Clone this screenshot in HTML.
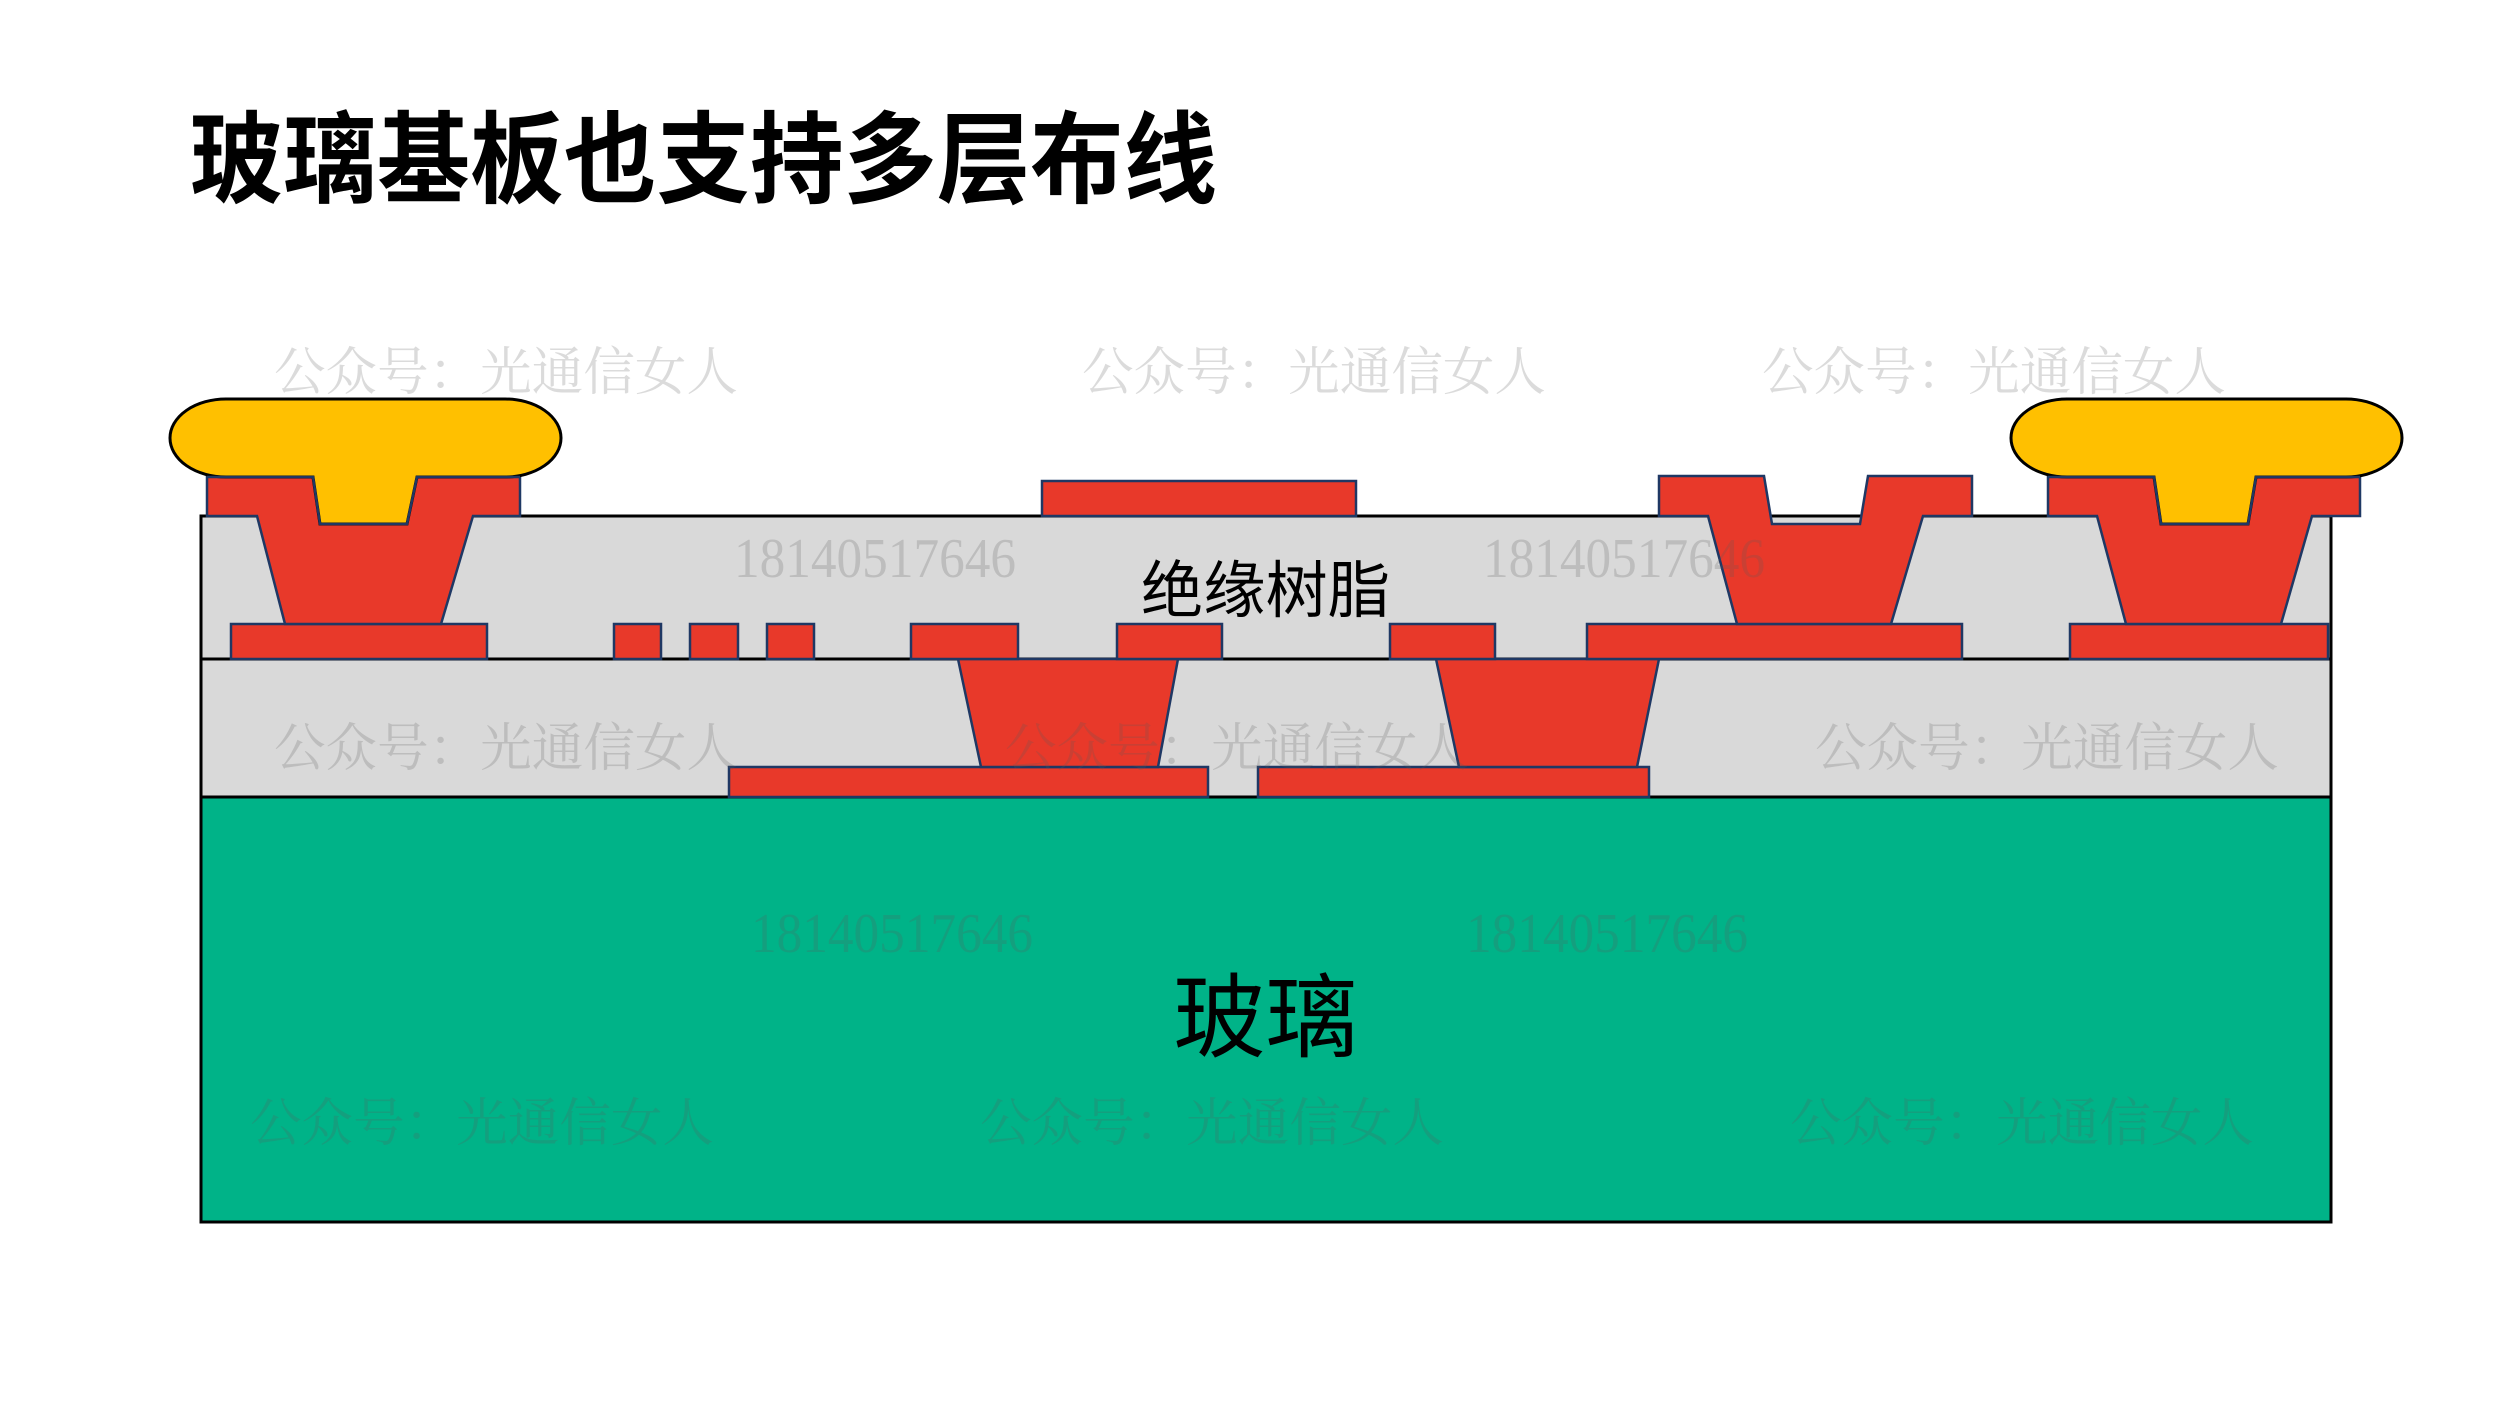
<!DOCTYPE html>
<html><head><meta charset="utf-8"><style>
html,body{margin:0;padding:0;background:#fff;width:2500px;height:1406px;overflow:hidden}
svg{display:block}
.wm{font-family:"Liberation Serif","Noto Serif CJK SC",serif;fill:rgba(90,90,90,0.22)}
.r{fill:#e8392a;stroke:#1f3864;stroke-width:2.5;stroke-linejoin:miter}
</style></head><body>
<svg width="2500" height="1406" viewBox="0 0 2500 1406" xmlns="http://www.w3.org/2000/svg">
<text x="190" y="195" font-family="Liberation Sans,Noto Sans CJK SC,sans-serif" font-weight="bold" font-size="100" textLength="1027" lengthAdjust="spacingAndGlyphs">玻璃基板也支持多层布线</text>

<rect x="201" y="797" width="2130" height="425" fill="#00b388" stroke="#000" stroke-width="3"/>
<rect x="201" y="659" width="2130" height="138" fill="#d9d9d9" stroke="#000" stroke-width="3"/>
<rect x="201" y="516" width="2130" height="143" fill="#d9d9d9" stroke="#000" stroke-width="3"/>

<rect class="r" x="729" y="767" width="479" height="30"/>
<rect class="r" x="1258" y="767" width="391" height="30"/>
<polygon class="r" points="958,659 1178,659 1158,767 981,767"/>
<polygon class="r" points="1436,659 1659,659 1637,767 1459,767"/>

<rect class="r" x="231" y="624" width="256" height="35"/>
<rect class="r" x="614" y="624" width="47" height="35"/>
<rect class="r" x="690" y="624" width="48" height="35"/>
<rect class="r" x="767" y="624" width="47" height="35"/>
<rect class="r" x="911" y="624" width="107" height="35"/>
<rect class="r" x="1117" y="624" width="105" height="35"/>
<rect class="r" x="1390" y="624" width="105" height="35"/>
<rect class="r" x="1587" y="624" width="375" height="35"/>
<rect class="r" x="2070" y="624" width="258" height="35"/>

<rect class="r" x="1042" y="481" width="314" height="35"/>

<polygon class="r" points="207,476 313,476 320,524 407,524 417,476 520,476 520,516 473,516 441,624 285,624 257,516 207,516"/>
<path d="M226,399 L505,399 A56,39 0 0 1 505,477 L417,477 L407,524 L320,524 L313,477 L226,477 A56,39 0 0 1 226,399 Z" fill="#ffc000" stroke="#000" stroke-width="3"/>
<path d="M207,477 L313,477 L320,524 L407,524 L417,477 L520,477" fill="none" stroke="#1f3864" stroke-width="2.5"/>

<polygon class="r" points="1659,476 1764,476 1772,524 1860,524 1868,476 1972,476 1972,516 1923,516 1891,624 1737,624 1708,516 1659,516"/>

<polygon class="r" points="2048,476 2154,476 2161,524 2248,524 2256,476 2360,476 2360,516 2312,516 2281,624 2126,624 2097,516 2048,516"/>
<path d="M2067,399 L2346,399 A56,39 0 0 1 2346,477 L2256,477 L2248,524 L2161,524 L2154,477 L2067,477 A56,39 0 0 1 2067,399 Z" fill="#ffc000" stroke="#000" stroke-width="3"/>
<path d="M2048,477 L2154,477 L2161,524 L2248,524 L2256,477 L2360,477" fill="none" stroke="#1f3864" stroke-width="2.5"/>

<text x="1141" y="612" font-family="Liberation Sans,Noto Sans CJK SC,sans-serif" font-size="62" textLength="249" lengthAdjust="spacingAndGlyphs">绝缘树脂</text>
<text x="1173" y="1050" font-family="Liberation Sans,Noto Sans CJK SC,sans-serif" font-size="92" textLength="185" lengthAdjust="spacingAndGlyphs">玻璃</text>

<g class="wm" font-size="52">
<text x="274" y="390" textLength="464" lengthAdjust="spacingAndGlyphs">公众号：光通信女人</text>
<text x="1082" y="390" textLength="464" lengthAdjust="spacingAndGlyphs">公众号：光通信女人</text>
<text x="1762" y="390" textLength="464" lengthAdjust="spacingAndGlyphs">公众号：光通信女人</text>
<text x="274" y="766" textLength="464" lengthAdjust="spacingAndGlyphs">公众号：光通信女人</text>
<text x="1005" y="766" textLength="464" lengthAdjust="spacingAndGlyphs">公众号：光通信女人</text>
<text x="1815" y="766" textLength="464" lengthAdjust="spacingAndGlyphs">公众号：光通信女人</text>
<text x="250" y="1141" textLength="464" lengthAdjust="spacingAndGlyphs">公众号：光通信女人</text>
<text x="980" y="1141" textLength="464" lengthAdjust="spacingAndGlyphs">公众号：光通信女人</text>
<text x="1790" y="1141" textLength="464" lengthAdjust="spacingAndGlyphs">公众号：光通信女人</text>
</g>
<g class="wm" font-size="56">
<text x="734" y="577" textLength="282" lengthAdjust="spacingAndGlyphs">18140517646</text>
<text x="1483" y="577" textLength="282" lengthAdjust="spacingAndGlyphs">18140517646</text>
<text x="751" y="952" textLength="282" lengthAdjust="spacingAndGlyphs">18140517646</text>
<text x="1466" y="952" textLength="282" lengthAdjust="spacingAndGlyphs">18140517646</text>
</g>
</svg>
</body></html>
